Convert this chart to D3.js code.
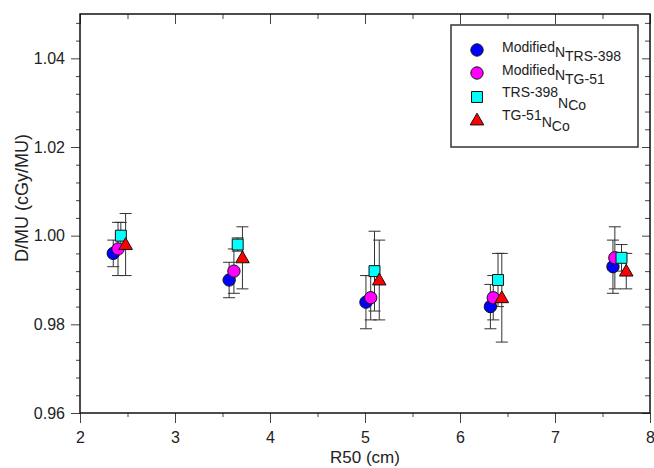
<!DOCTYPE html>
<html>
<head>
<meta charset="UTF-8">
<title>D/MU vs R50</title>
<script src="https://d3js.org/d3.v7.min.js"></script>
<style>
  body { margin: 0; background: #fff; }
  text { font-family: "Liberation Sans", Arial, sans-serif; }
</style>
</head>
<body>
<div id="chart"></div>
<script>
  // R50 (cm), D/MU (cGy/MU) and uncertainty for each series
  const r50ModTrs = [2.35, 3.57, 5.01, 6.32, 7.61];
  const dmuModTrs = [0.996, 0.990, 0.985, 0.984, 0.993];
  const errModTrs = [0.003, 0.004, 0.006, 0.005, 0.006];

  const r50ModTg = [2.40, 3.62, 5.06, 6.35, 7.63];
  const dmuModTg = [0.997, 0.992, 0.986, 0.986, 0.995];
  const errModTg = [0.006, 0.005, 0.005, 0.005, 0.007];

  const r50Trs = [2.43, 3.66, 5.10, 6.40, 7.70];
  const dmuTrs = [1.000, 0.998, 0.992, 0.990, 0.995];
  const errTrs = [0.003, 0.0015, 0.009, 0.006, 0.003];

  const r50Tg = [2.48, 3.71, 5.15, 6.44, 7.75];
  const dmuTg = [0.998, 0.995, 0.990, 0.986, 0.992];
  const errTg = [0.007, 0.007, 0.009, 0.010, 0.004];

  const legendLabels = [
    ["Modified", "N", "TRS-398"],
    ["Modified", "N", "TG-51"],
    ["TRS-398", "N", "Co"],
    ["TG-51", "N", "Co"]
  ];
  const xTicks = [2, 3, 4, 5, 6, 7, 8];
  const yTicks = [0.96, 0.98, 1.00, 1.02, 1.04];

  const width = 654, height = 468;
  const mLeft = 80, mRight = 650, mTop = 14, mBottom = 413;

  const svg = d3.select("#chart").append("svg")
    .attr("width", width)
    .attr("height", height);

  const x = d3.scaleLinear().domain([2, 8]).range([mLeft, mRight]);
  const y = d3.scaleLinear().domain([0.96, 1.05]).range([mBottom, mTop]);

  const xMinor = d3.range(2.5, 8, 1);
  const yMinor = d3.range(0, 23).map(i => +(0.96 + i * 0.004).toFixed(3))
    .filter(v => !yTicks.some(t => Math.abs(t - v) < 1e-6));

  function styleAxis(g) {
    g.select(".domain").remove();
    g.selectAll(".tick line").attr("stroke", "#444");
    g.selectAll(".tick text")
      .attr("fill", "#222")
      .style("font-size", "16px");
  }

  // bottom / left: outward ticks with labels
  svg.append("g").attr("transform", `translate(0,${mBottom})`)
    .call(d3.axisBottom(x).tickValues(xTicks).tickSize(10).tickPadding(9).tickFormat(d3.format("d")))
    .call(styleAxis);
  svg.append("g").attr("transform", `translate(0,${mBottom})`)
    .call(d3.axisBottom(x).tickValues(xMinor).tickSize(4).tickFormat(""))
    .call(styleAxis);
  svg.append("g").attr("transform", `translate(${mLeft},0)`)
    .call(d3.axisLeft(y).tickValues(yTicks).tickSize(9).tickPadding(6).tickFormat(d3.format(".2f")))
    .call(styleAxis);
  svg.append("g").attr("transform", `translate(${mLeft},0)`)
    .call(d3.axisLeft(y).tickValues(yMinor).tickSize(4).tickFormat(""))
    .call(styleAxis);

  // top / right: inward ticks, no labels
  svg.append("g").attr("transform", `translate(0,${mTop})`)
    .call(d3.axisTop(x).tickValues(xTicks).tickSize(-10).tickFormat(""))
    .call(styleAxis);
  svg.append("g").attr("transform", `translate(0,${mTop})`)
    .call(d3.axisTop(x).tickValues(xMinor).tickSize(-5).tickFormat(""))
    .call(styleAxis);
  svg.append("g").attr("transform", `translate(${mRight},0)`)
    .call(d3.axisRight(y).tickValues(yTicks).tickSize(-8).tickFormat(""))
    .call(styleAxis);
  svg.append("g").attr("transform", `translate(${mRight},0)`)
    .call(d3.axisRight(y).tickValues(yMinor).tickSize(-5).tickFormat(""))
    .call(styleAxis);

  // frame
  svg.append("rect")
    .attr("x", mLeft).attr("y", mTop)
    .attr("width", mRight - mLeft).attr("height", mBottom - mTop)
    .attr("fill", "none").attr("stroke", "#111").attr("stroke-width", 1.5);

  // axis titles
  svg.append("text")
    .attr("x", (mLeft + mRight) / 2).attr("y", 463)
    .attr("text-anchor", "middle")
    .attr("fill", "#222")
    .style("font-size", "17px")
    .text("R50 (cm)");
  svg.append("text")
    .attr("transform", "translate(28,198) rotate(-90)")
    .attr("text-anchor", "middle")
    .attr("fill", "#222")
    .style("font-size", "18px")
    .text("D/MU (cGy/MU)");

  const series = [
    { r50: r50ModTrs, dmu: dmuModTrs, err: errModTrs, color: "#0000ff", shape: d3.symbolCircle, size: 120 },
    { r50: r50ModTg, dmu: dmuModTg, err: errModTg, color: "#ff00ff", shape: d3.symbolCircle, size: 120 },
    { r50: r50Trs, dmu: dmuTrs, err: errTrs, color: "#00ffff", shape: d3.symbolSquare, size: 120 },
    { r50: r50Tg, dmu: dmuTg, err: errTg, color: "#ff0000", shape: d3.symbolTriangle, size: 80 }
  ];
  series.forEach(s => {
    s.points = s.r50.map((r, i) => ({ r: r, v: s.dmu[i], e: s.err[i] }));
  });

  // error bars
  const cap = 6;
  const bars = svg.append("g").attr("stroke", "#333").attr("stroke-width", 1).attr("fill", "none");
  series.forEach(s => {
    s.points.forEach(p => {
      const cx = x(p.r), y1 = y(p.v + p.e), y2 = y(p.v - p.e);
      bars.append("line").attr("x1", cx).attr("x2", cx).attr("y1", y1).attr("y2", y2);
      bars.append("line").attr("x1", cx - cap).attr("x2", cx + cap).attr("y1", y1).attr("y2", y1);
      bars.append("line").attr("x1", cx - cap).attr("x2", cx + cap).attr("y1", y2).attr("y2", y2);
    });
  });

  // markers
  series.forEach(s => {
    svg.append("g").selectAll("path")
      .data(s.points)
      .enter()
      .append("path")
      .attr("d", d3.symbol().type(s.shape).size(s.size))
      .attr("transform", d => `translate(${x(d.r)},${y(d.v) + (s.shape === d3.symbolTriangle ? 1 : 0)})`)
      .attr("fill", s.color)
      .attr("stroke", "#111")
      .attr("stroke-width", 1);
  });

  // legend
  const legend = svg.append("g");
  legend.append("rect")
    .attr("x", 451).attr("y", 25).attr("width", 187).attr("height", 122)
    .attr("fill", "#fff").attr("stroke", "#333").attr("stroke-width", 1.5);

  const rowY = [50, 73, 97, 120];
  const baseY = [52, 75, 97, 120];
  const shifts = [[0, 4.5, 8.5], [0, 4.5, 9], [0, 11, 13], [0, 7, 11]];
  legendLabels.forEach((parts, i) => {
    const s = series[i];
    legend.append("path")
      .attr("d", d3.symbol().type(s.shape).size(s.size))
      .attr("transform", `translate(477,${rowY[i] + (s.shape === d3.symbolTriangle ? 1 : 0)})`)
      .attr("fill", s.color)
      .attr("stroke", "#111")
      .attr("stroke-width", 1);
    const t = legend.append("text")
      .attr("x", 502).attr("y", baseY[i])
      .attr("fill", "#222")
      .style("font-size", "14px");
    let prev = 0;
    parts.forEach((p, j) => {
      t.append("tspan")
        .attr("dy", shifts[i][j] - prev)
        .text(p);
      prev = shifts[i][j];
    });
  });
</script>
</body>
</html>
